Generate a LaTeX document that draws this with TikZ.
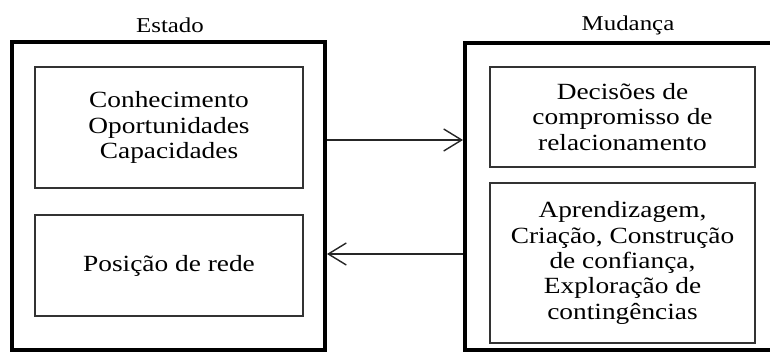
\documentclass[tikz,border=0pt]{standalone}
\usepackage{fontspec}
\setmainfont{Liberation Serif}[FakeStretch=1.18]
\usepackage{xcolor}
\usepackage{tikz}
\usetikzlibrary{arrows.meta, positioning, calc}

\begin{document}
\begin{tikzpicture}[
    outerbox/.style={draw=black, line width=2.8pt, minimum width=7.825cm, minimum height=7.7cm},
    innerbox/.style={draw=black!80, line width=1.3pt, minimum width=6.7cm, align=center, font=\fontsize{16.5}{18}\selectfont},
    title/.style={font=\fontsize{15}{16}\selectfont, inner sep=1pt},
    flow/.style={draw=black!85, line width=1pt, -{Straight Barb[length=4.5mm,width=5.5mm]}}
]
    \useasboundingbox (0,0) rectangle (19.25,8.825);
    % state side
    \node[outerbox] (estado) at (4.2125,3.925) {};
    \node[title] at (4.25,8.2) {Estado};
    \node[innerbox, minimum height=3.025cm] (recursos) at (4.225,5.6375) {Conhecimento\\Oportunidades\\Capacidades};
    \node[innerbox, minimum height=2.525cm] (posicao) at (4.225,2.1875) {Posição de rede};
    % change side (runs off the right edge)
    \node[outerbox, minimum width=8.6cm, minimum height=7.675cm] (mudanca) at (15.925,3.9125) {};
    \node[title] at (15.7,8.2) {Mudança};
    \node[innerbox, minimum width=6.625cm, minimum height=2.5cm] (decisoes) at (15.5625,5.9) {Decisões de\\compromisso de\\relacionamento};
    \node[innerbox, minimum width=6.625cm, minimum height=4cm] (interacao) at (15.5625,2.25) {Aprendizagem,\\Criação, Construção\\de confiança,\\Exploração de\\contingências};
    % flows
    \draw[flow] ([yshift=1.4cm]estado.east) -- ([yshift=1.4cm]estado.east -| mudanca.west);
    \draw[flow] ([yshift=-1.45cm]estado.east -| mudanca.west) -- ([yshift=-1.45cm]estado.east);
\end{tikzpicture}
\end{document}
